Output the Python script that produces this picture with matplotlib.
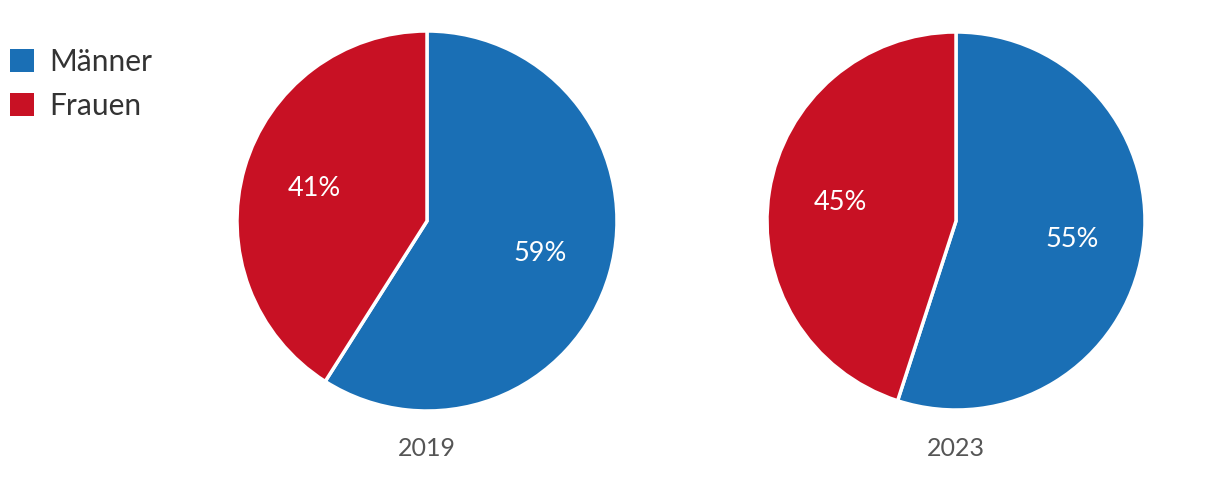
import matplotlib
matplotlib.use("Agg")
import matplotlib.pyplot as plt
from matplotlib.patches import Patch

categories = ["Männer", "Frauen"]
years = ["2019", "2023"]
values_2019 = [59, 41]
values_2023 = [55, 45]
series = [values_2019, values_2023]
colors = ["#1a6fb5", "#c81124"]

plt.rcParams['font.family'] = ['Lato', 'DejaVu Sans']

W, H = 1220, 496
fig = plt.figure(figsize=(W / 100, H / 100), dpi=100)

centers = [(427, 221, 190), (956, 221, 189)]

for (cx, cy, r), vals, yr in zip(centers, series, years):
    ax = fig.add_axes([(cx - r) / W, (H - cy - r) / H, 2 * r / W, 2 * r / H])
    wedges, texts, autotexts = ax.pie(
        vals, colors=colors, startangle=90, counterclock=False,
        autopct=lambda p: f"{p:.0f}%", pctdistance=0.62,
        wedgeprops=dict(edgecolor="white", linewidth=2.5),
        textprops=dict(color="white", fontsize=19.5))
    ax.set_xlim(-1.0, 1.0)
    ax.set_ylim(-1.0, 1.0)
    ax.set_aspect("equal")
    ax.axis("off")
    fig.text(cx / W, 1 - 449 / H, yr, ha="center", va="center",
             fontsize=18, color="#555555")

fs = 21.5
handles = [Patch(facecolor=c, edgecolor="none") for c in colors]
fig.legend(handles, categories, loc="upper left",
           bbox_to_anchor=(10 / W, 1 - 48 / H),
           frameon=False, fontsize=fs, handlelength=0.8, handleheight=0.8,
           handletextpad=0.53, labelspacing=0.53, borderaxespad=0, borderpad=0,
           labelcolor="#333333")

fig.savefig("out.png", dpi=100)
